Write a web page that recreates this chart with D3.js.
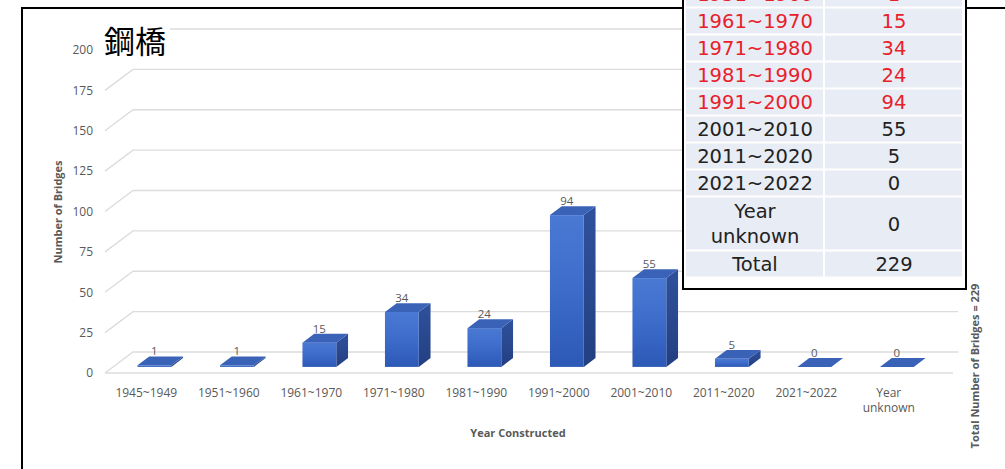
<!DOCTYPE html>
<html>
<head>
<meta charset="utf-8">
<script src="https://cdn.jsdelivr.net/npm/d3@7"></script>
<style>
  html, body { margin: 0; padding: 0; background: #fff; }
  svg { display: block; }
</style>
</head>
<body>
<div id="chart"></div>
<script>
// Steel bridges by construction period
const categories = ["1945~1949", "1951~1960", "1961~1970", "1971~1980", "1981~1990",
                    "1991~2000", "2001~2010", "2011~2020", "2021~2022", "Year unknown"];
const bridgeCounts = [1, 1, 15, 34, 24, 94, 55, 5, 0, 0];
const yTicks = [0, 25, 50, 75, 100, 125, 150, 175, 200];
const highlighted = ["1945~1949", "1951~1960", "1961~1970", "1971~1980", "1981~1990", "1991~2000"];
const totalCount = d3.sum(bridgeCounts);

const W = 1005, H = 469;
const svg = d3.select("#chart").append("svg").attr("width", W).attr("height", H);

const defs = svg.append("defs");
const grad = defs.append("linearGradient").attr("id", "frontGrad")
  .attr("x1", 0).attr("y1", 0).attr("x2", 0).attr("y2", 1);
grad.append("stop").attr("offset", "0%").attr("stop-color", "#4a79d4");
grad.append("stop").attr("offset", "45%").attr("stop-color", "#3e6dcc");
grad.append("stop").attr("offset", "100%").attr("stop-color", "#2d59b6");
const sideGrad = defs.append("linearGradient").attr("id", "sideGrad")
  .attr("x1", 0).attr("y1", 0).attr("x2", 0).attr("y2", 1);
sideGrad.append("stop").attr("offset", "0%").attr("stop-color", "#2f519c");
sideGrad.append("stop").attr("offset", "100%").attr("stop-color", "#233f82");

// outer frame
svg.append("rect").attr("x", 22).attr("y", 8).attr("width", W + 20).attr("height", H + 20)
  .attr("fill", "#fff").attr("stroke", "#000").attr("stroke-width", 2);

// 3D plot geometry: floor depth offsets
const depthX = 28, depthY = 21;
const barFront = 0.29, barBack = 0.71;

const xScale = d3.scaleBand().domain(categories).range([105, 930])
  .paddingInner(0.59).paddingOuter(0.295);
const yScale = d3.scaleLinear().domain([0, 200]).range([373, 50]);

const grey = "#595959";
const gridColor = "#dcdcdc";

// back wall gridlines with slanted side-wall segment
const grid = svg.append("g");
yTicks.forEach(v => {
  const y = yScale(v);
  grid.append("path")
    .attr("d", `M105,${y} L${105 + depthX},${y - depthY} L958,${y - depthY}`)
    .attr("fill", "none").attr("stroke", gridColor).attr("stroke-width", 1.3);
});
// floor front edge
grid.append("line").attr("x1", 105).attr("x2", 953)
  .attr("y1", yScale(0)).attr("y2", yScale(0))
  .attr("stroke", gridColor).attr("stroke-width", 1.3);

// y axis labels
const yAxis = d3.axisLeft(yScale).tickValues(yTicks).tickSize(0).tickPadding(3);
const gy = svg.append("g").attr("transform", "translate(96,0)").call(yAxis);
gy.select(".domain").remove();
gy.selectAll("text").attr("fill", grey).style("font-family", "'Open Sans', sans-serif")
  .style("font-size", "12px");

// x axis labels
const xAxis = d3.axisBottom(xScale).tickSize(0).tickPadding(3);
const gx = svg.append("g").attr("transform", "translate(0,385)").call(xAxis);
gx.select(".domain").remove();
gx.selectAll("text").attr("fill", grey).style("font-family", "'Open Sans', sans-serif")
  .style("font-size", "12px")
  .each(function(d) {
    const parts = d.split(" ");
    if (parts.length > 1) {
      const t = d3.select(this).text(null);
      parts.forEach((p, i) => {
        t.append("tspan").attr("x", 0).attr("dy", i === 0 ? "0.71em" : "1.3em").text(p);
      });
    }
  });

// 3D columns
const bw = xScale.bandwidth();
const dx = depthX * (barBack - barFront), dy = depthY * (barBack - barFront);
const bars = svg.append("g");
categories.forEach((c, i) => {
  const v = bridgeCounts[i];
  const x0 = xScale(c) + depthX * barFront;
  const x1 = x0 + bw;
  const yb = yScale(0) - depthY * barFront;
  const yt = yScale(v) - depthY * barFront;
  const g = bars.append("g");
  g.append("path")
    .attr("d", `M${x1},${yt} L${x1 + dx},${yt - dy} L${x1 + dx},${yb - dy} L${x1},${yb} Z`)
    .attr("fill", "url(#sideGrad)");
  g.append("rect").attr("x", x0).attr("y", yt).attr("width", bw).attr("height", Math.max(0, yb - yt))
    .attr("fill", "url(#frontGrad)");
  g.append("path")
    .attr("d", `M${x0},${yt} L${x0 + dx},${yt - dy} L${x1 + dx},${yt - dy} L${x1},${yt} Z`)
    .attr("fill", "#3a63b8");
  g.append("text").attr("x", x0 + bw / 2).attr("y", yt - 10)
    .attr("text-anchor", "middle").attr("fill", grey)
    .style("font-family", "'Open Sans', sans-serif").style("font-size", "11.5px")
    .text(v);
});

// axis titles
svg.append("text").attr("transform", "translate(62,212) rotate(-90)")
  .attr("text-anchor", "middle").attr("fill", grey)
  .style("font-family", "'Open Sans', sans-serif").style("font-size", "11px").style("font-weight", "bold")
  .text("Number of Bridges");
svg.append("text").attr("x", 518).attr("y", 437)
  .attr("text-anchor", "middle").attr("fill", grey)
  .style("font-family", "'Open Sans', sans-serif").style("font-size", "11px").style("font-weight", "bold")
  .text("Year Constructed");
svg.append("text").attr("transform", "translate(979,366) rotate(-90)")
  .attr("text-anchor", "middle").attr("fill", grey)
  .style("font-family", "'Open Sans', sans-serif").style("font-size", "11px").style("font-weight", "bold")
  .text(`Total Number of Bridges = ${totalCount}`);

// title
svg.append("rect").attr("x", 100).attr("y", 22).attr("width", 70).attr("height", 38).attr("fill", "#fff");
svg.append("text").attr("x", 104).attr("y", 53)
  .attr("fill", "#000")
  .style("font-family", "'Noto Sans CJK JP', sans-serif").style("font-size", "31px")
  .text("鋼橋");

// summary table
const table = svg.append("g");
table.append("rect").attr("x", 683).attr("y", -10).attr("width", 283).attr("height", 299)
  .attr("fill", "#fff").attr("stroke", "#000").attr("stroke-width", 2);

const rowH = 27;
const firstRowTop = 7.5 - 2 * rowH; // top edge of the 1945~1949 row
const rows = categories.map((c, i) => ({ label: c, value: bridgeCounts[i], span: c === "Year unknown" ? 2 : 1 }));
rows.push({ label: "Total", value: totalCount, span: 1 });
let rowTop = firstRowTop;
const colX = [686, 825], colW = [138, 138];
rows.forEach(r => {
  const h = rowH * r.span;
  const red = highlighted.includes(r.label);
  const color = red ? "#e8202a" : "#222";
  [0, 1].forEach(ci => {
    table.append("rect").attr("x", colX[ci]).attr("y", rowTop + 1).attr("width", colW[ci] - 1)
      .attr("height", h - 2).attr("fill", "#e8ecf4");
  });
  const cy = rowTop + h / 2;
  const t = table.append("text").attr("x", colX[0] + colW[0] / 2).attr("y", cy)
    .attr("text-anchor", "middle").attr("fill", color)
    .style("font-family", "'DejaVu Sans', sans-serif").style("font-size", "19.5px");
  const parts = r.span > 1 ? r.label.split(" ") : [r.label];
  parts.forEach((p, i) => {
    t.append("tspan").attr("x", colX[0] + colW[0] / 2)
      .attr("dy", i === 0 ? (parts.length > 1 ? "-0.3em" : "0.36em") : "1.3em").text(p);
  });
  table.append("text").attr("x", colX[1] + colW[1] / 2).attr("y", cy).attr("dy", "0.36em")
    .attr("text-anchor", "middle").attr("fill", color)
    .style("font-family", "'DejaVu Sans', sans-serif").style("font-size", "19.5px")
    .text(r.value);
  rowTop += h;
});
</script>
</body>
</html>
